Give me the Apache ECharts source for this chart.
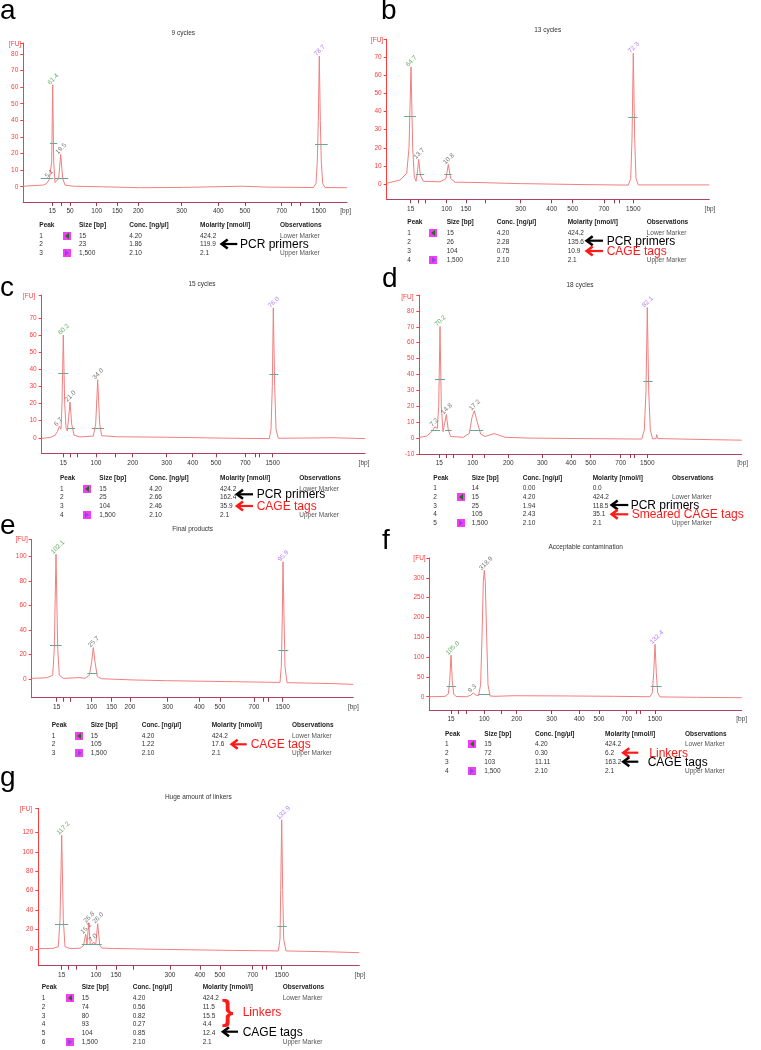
<!DOCTYPE html>
<html>
<head>
<meta charset="utf-8">
<script src="https://cdn.jsdelivr.net/npm/echarts@6/dist/echarts.min.js"></script>
<style>
  html, body { margin: 0; padding: 0; background: #fff; }
  #page { position: relative; width: 761px; height: 1050px; overflow: hidden; font-family: 'Liberation Sans', Arial, sans-serif; }
  #chart { position: absolute; left: 0; top: 0; width: 761px; height: 1050px; }
  .t { position: absolute; white-space: nowrap; line-height: 1; }
  #arrows { position: absolute; left: 0; top: 0; pointer-events: none; }
</style>
</head>
<body>
<div id="page">
  <div id="chart"></div>
  <svg id="arrows" width="761" height="1050"></svg>
</div>
<script>
// traces: [migration position, FU]
const traceA = [[0,0.3],[20,1.0],[23.4,2.0],[26,4.5],[26.7,5.1],[27.4,4],[28.4,15],[29.4,61.4],[30.4,15],[31.7,2.5],[33.4,1.5],[35.4,5],[37.4,19.5],[39.4,5],[41.7,1.0],[50,0.3],[76.7,0],[117,-0.6],[160,-0.4],[219,0.3],[243,-0.2],[290,-0.5],[292.7,2],[294,15],[295,40],[296,78.7],[297,40],[298,15],[299.4,2],[301.7,-0.5],[323.7,-0.6]];
const traceB = [[0,0.4],[13.3,2.2],[20,5.9],[22.3,20],[24.3,64.7],[26,20],[27.6,4],[29.3,1.5],[30.6,6],[32,13.7],[33.6,5],[36.6,1.5],[53.3,1.2],[59.3,3],[61.6,10.8],[64,3],[68.3,1.0],[93.3,0.8],[133.3,0.2],[135,-0.5],[136.5,0.2],[193.3,-0.3],[241.6,-0.6],[244,3],[245.3,25],[246.6,72.3],[248,25],[249.3,3],[251.6,-0.5],[322.6,-0.5]];
const traceC = [[0,-0.4],[8.3,0.2],[13.3,1.4],[15.6,3.5],[17.6,6.7],[19.3,5],[20.3,20],[21.6,60.2],[23,20],[24.3,6],[25.6,4],[27,12],[28.3,21.0],[30,8],[32.3,1.5],[38.3,0.5],[51.6,1.0],[54,8],[56,34.0],[58,8],[60,1.2],[75,0.6],[125,0.3],[191.6,-0.3],[227.6,-0.5],[229.3,5],[230.6,30],[231.6,76.0],[233,30],[234.3,5],[236.6,-0.3],[291.6,0],[323.3,-0.5]];
const traceD = [[0,0.4],[7.4,1.3],[12.4,4],[15.7,7.2],[18,6],[19.4,20],[20.7,70.2],[22,20],[23.7,4],[25,8],[27,14.8],[29,5],[31.4,1],[44,0.5],[50,3],[52.7,13],[55,17.2],[58,10],[61.4,2.5],[65.7,1.0],[70.7,2.0],[74.7,2.8],[79,2.0],[85.7,0.5],[110.7,0],[160.7,-0.3],[222.4,-0.6],[225,5],[226.7,30],[228,82.1],[229.4,30],[231,5],[233.4,-0.5],[236.7,-0.3],[237.4,2.2],[238.4,-0.3],[294,-1.0],[322.4,-1.3]];
const traceE = [[0,0.5],[15,1.0],[21,3],[22.6,25],[24.3,102.1],[26,25],[27.6,3],[31.6,0.5],[48.3,1.1],[53.3,0.5],[57.6,3],[60,14],[61.6,25.7],[63.3,14],[65.6,2],[70,0.2],[101.6,-0.8],[135,-1.4],[201.6,-2.2],[248.3,-2.8],[249.6,10],[250.6,50],[251.3,95.9],[252.3,50],[253.3,10],[255.3,-3],[302,-3.8],[321.6,-4.4]];
const traceF = [[0,0],[15.7,0.8],[19,7],[20.4,40],[21.7,105.0],[23,40],[24.4,7],[26.7,0.5],[37.4,0],[41.4,4],[44,9.3],[46.7,4],[49.3,3],[51.3,30],[52.7,150],[54,290],[55,318.9],[56,290],[57.4,150],[58.7,30],[60.7,2],[65.7,1],[84,2.5],[134,2.0],[184,1.0],[220.7,0],[223,10],[224.4,60],[225.7,132.4],[227,60],[228.4,10],[230.7,-0.5],[267.4,-1.5],[312.4,-2.5]];
const traceG = [[0,0.3],[15,0.7],[20,2.4],[21.7,30],[23.4,117.2],[25,30],[26.7,2.4],[31.7,0.5],[41.7,0.8],[45,3],[47.4,15.2],[48.7,5],[50.4,26.8],[52,4],[54,3],[55.7,7.0],[57.4,4],[59.4,26.0],[61.4,4],[63.4,1],[75,0.5],[128.4,-0.5],[195,-1.5],[240,-2],[241.7,10],[242.4,60],[243.4,132.9],[244.4,60],[245.4,10],[247.7,-2],[295,-3],[321,-3.8]];

// labelled peaks: [position, FU, kind]
const peaksA = [[26.7,5.1,'n'],[29.4,61.4,'lo'],[37.4,19.5,'n'],[296,78.7,'up']];
const peaksB = [[24.3,64.7,'lo'],[32,13.7,'n'],[61.6,10.8,'n'],[246.6,72.3,'up']];
const peaksC = [[17.6,6.7,'n'],[21.6,60.2,'lo'],[28.3,21.0,'n'],[56,34.0,'n'],[231.6,76.0,'up']];
const peaksD = [[15.7,7.2,'n'],[20.7,70.2,'lo'],[27,14.8,'n'],[55,17.2,'n'],[228,82.1,'up']];
const peaksE = [[24.3,102.1,'lo'],[61.6,25.7,'n'],[251.3,95.9,'up']];
const peaksF = [[21.7,105.0,'lo'],[44,9.3,'n'],[55,318.9,'n'],[225.7,132.4,'up']];
const peaksG = [[23.4,117.2,'lo'],[47.4,15.2,'n'],[50.4,26.8,'n'],[55.7,7.0,'n'],[59.4,26.0,'n'],[243.4,132.9,'up']];

// peak width bars: [from, to, FU]
const widthsA = [[26.7,34,26],[17.4,30,5.4],[31.7,45,5.4],[291.7,304.4,25.7]];
const widthsB = [[17.6,29.3,37.6],[29.3,37.6,5.4],[57.6,65,5.4],[241.6,251,36.8]];
const widthsC = [[16.6,26.6,37.7],[26,33.3,5.5],[50,62.3,5.5],[227.6,236.6,37.1]];
const widthsD = [[15.7,25.7,37.3],[11.4,20.7,5],[25.7,32.4,5],[50.7,64,5],[224,233.4,36]];
const widthsE = [[18.3,30,27.8],[55.6,65.6,4.6],[246.6,256.6,23.7]];
const widthsF = [[17.4,26.7,26.9],[49,60.7,5.9],[221.4,232.4,25.2]];
const widthsG = [[16.7,30,25.4],[43.4,63.4,4.8],[239,248.4,23]];

// bp ladder ticks
const tickPosA = [29,38.4,46.7,73.4,94,115,158.4,195,221.7,258.4,268.4,276.7,295.7];
const tickLblA = ['15','','50','100','150','200','300','400','500','700','','','1500'];
const tickPosB = [24,31.6,38.3,60,79.3,98.3,134,165,186,217.3,227.3,232.3,246.6];
const tickLblB = ['15','','','100','150','','300','400','500','700','','','1500'];
const tickPosC = [21.6,28.3,35.6,54.3,73.3,91,125,151,174.3,203.6,213.3,217.6,231];
const tickLblC = ['15','','','100','','200','300','400','500','700','','','1500'];
const tickPosD = [20,26.7,34,53.4,64.7,89,123,151.7,171.4,201.4,210.7,214.7,228];
const tickLblD = ['15','','','100','','200','300','400','500','700','','','1500'];
const tickPosE = [25,31.6,38.3,60,80,98.3,136,167.6,188.3,222.3,231.6,236.6,251];
const tickLblE = ['15','','','100','150','200','300','400','500','700','','','1500'];
const tickPosF = [21.7,29,36.7,55,71.7,87.4,122.4,150,169.7,197.4,206.7,211.4,225.7];
const tickLblF = ['15','','','100','','200','300','400','500','700','','','1500'];
const tickPosG = [23.4,30,37.7,57.7,77.7,95,131.7,161.7,181.7,214.4,224.4,228.4,243.4];
const tickLblG = ['15','','','100','150','','300','400','500','700','','','1500'];

// peak tables: [peak, marker, size, conc, molarity, observations]
const tableHead = ['Peak', '', 'Size [bp]', 'Conc. [ng/\u00b5l]', 'Molarity [nmol/l]', 'Observations'];
const tableA = [['1','lo','15','4.20','424.2','Lower Marker'],['2','','23','1.86','119.9',''],['3','up','1,500','2.10','2.1','Upper Marker']];
const tableB = [['1','lo','15','4.20','424.2','Lower Marker'],['2','','26','2.28','135.6',''],['3','','104','0.75','10.9',''],['4','up','1,500','2.10','2.1','Upper Marker']];
const tableC = [['1','lo','15','4.20','424.2','Lower Marker'],['2','','25','2.66','162.4',''],['3','','104','2.46','35.9',''],['4','up','1,500','2.10','2.1','Upper Marker']];
const tableD = [['1','','14','0.00','0.0',''],['2','lo','15','4.20','424.2','Lower Marker'],['3','','25','1.94','118.5',''],['4','','105','2.43','35.1',''],['5','up','1,500','2.10','2.1','Upper Marker']];
const tableE = [['1','lo','15','4.20','424.2','Lower Marker'],['2','','105','1.22','17.6',''],['3','up','1,500','2.10','2.1','Upper Marker']];
const tableF = [['1','lo','15','4.20','424.2','Lower Marker'],['2','','72','0.30','6.2',''],['3','','103','11.11','163.2',''],['4','up','1,500','2.10','2.1','Upper Marker']];
const tableG = [['1','lo','15','4.20','424.2','Lower Marker'],['2','','74','0.56','11.5',''],['3','','80','0.82','15.5',''],['4','','93','0.27','4.4',''],['5','','104','0.85','12.4',''],['6','up','1,500','2.10','2.1','Upper Marker']];

const BLACK = '#000';
const RED = '#ff1a1a';

const panels = [
  { trace: traceA, peaks: peaksA, widths: widthsA, tickPos: tickPosA, tickLbl: tickLblA, table: tableA,
    letter: 'a', letterAt: [0, 20], title: '9 cycles', titleAt: [183.3, 32.7], fuAt: [15, 44.3], bpAt: [345.7, 211],
    grid: { left: 23.3, top: 43, width: 323.7, height: 159 }, y: [-9.2, 86.6, 10, 0, 80],
    cols: [39.3, 62.7, 79, 129.3, 200, 280], headY: 225, rowY: [236, 244.3, 253.3],
    notes: [['PCR primers', BLACK, 240, 244, 221.7, 237.3]] },
  { trace: traceB, peaks: peaksB, widths: widthsB, tickPos: tickPosB, tickLbl: tickLblB, table: tableB,
    letter: 'b', letterAt: [381, 20], title: '13 cycles', titleAt: [547.7, 30], fuAt: [377, 40], bpAt: [710, 209],
    grid: { left: 386.7, top: 39.2, width: 322.6, height: 160.1 }, y: [-8.45, 80, 10, 0, 70],
    cols: [407.3, 429.3, 446.7, 496.7, 567.7, 646.7], headY: 222.3, rowY: [233.3, 241.7, 251, 260],
    notes: [['PCR primers', BLACK, 606.7, 240.7, 586.7, 603], ['CAGE tags', RED, 606.7, 251, 586.7, 603]] },
  { trace: traceC, peaks: peaksC, widths: widthsC, tickPos: tickPosC, tickLbl: tickLblC, table: tableC,
    letter: 'c', letterAt: [0, 297], title: '15 cycles', titleAt: [202, 284], fuAt: [29, 296], bpAt: [364, 462.7],
    grid: { left: 41.7, top: 295, width: 323.3, height: 158.3 }, y: [-9.1, 83.6, 10, 0, 70],
    cols: [60, 82.7, 99.3, 149.3, 220, 299.3], headY: 478.3, rowY: [489.3, 497.3, 506, 515],
    notes: [['PCR primers', BLACK, 256.7, 494.3, 237, 253], ['CAGE tags', RED, 256.7, 506, 237, 253]] },
  { trace: traceD, peaks: peaksD, widths: widthsD, tickPos: tickPosD, tickLbl: tickLblD, table: tableD,
    letter: 'd', letterAt: [382, 288], title: '18 cycles', titleAt: [580, 285], fuAt: [407.3, 296.7], bpAt: [742.7, 463.3],
    grid: { left: 419.3, top: 295, width: 322.4, height: 159 }, y: [-10, 90, 10, -10, 80],
    cols: [433.3, 456.7, 471.7, 522.7, 592.7, 672], headY: 478.3, rowY: [488.3, 497.3, 505.5, 514.3, 523.3],
    notes: [['PCR primers', BLACK, 630.7, 505, 611.7, 628.3], ['Smeared CAGE tags', RED, 631.7, 514.3, 611.7, 628.3]] },
  { trace: traceE, peaks: peaksE, widths: widthsE, tickPos: tickPosE, tickLbl: tickLblE, table: tableE,
    letter: 'e', letterAt: [0, 535], title: 'Final products', titleAt: [192.7, 529], fuAt: [21.7, 539.3], bpAt: [353.3, 707.3],
    grid: { left: 31.7, top: 539.3, width: 321.6, height: 158.4 }, y: [-15.3, 114.2, 20, 0, 100],
    cols: [51.7, 75, 90.7, 141.7, 211.7, 292], headY: 725, rowY: [735.7, 744.3, 753.3],
    notes: [['CAGE tags', RED, 250.7, 744.3, 231.7, 246.7]] },
  { trace: traceF, peaks: peaksF, widths: widthsF, tickPos: tickPosF, tickLbl: tickLblF, table: tableF,
    letter: 'f', letterAt: [382, 550], title: 'Acceptable contamination', titleAt: [585.7, 546.7], fuAt: [419.5, 558.3], bpAt: [741.7, 719.3],
    grid: { left: 429.3, top: 558, width: 312.4, height: 152 }, y: [-33.5, 350, 50, 0, 300],
    cols: [445, 467.7, 484.3, 535, 605, 685], headY: 734, rowY: [744.3, 753.3, 762, 771],
    notes: [['Linkers', RED, 649.3, 752.7, 623.3, 638.3], ['CAGE tags', BLACK, 647.7, 761.7, 623.3, 638.3]] },
  { trace: traceG, peaks: peaksG, widths: widthsG, tickPos: tickPosG, tickLbl: tickLblG, table: tableG,
    letter: 'g', letterAt: [0, 787], title: 'Huge amount of linkers', titleAt: [198.3, 796.7], fuAt: [26, 809.3], bpAt: [360, 975],
    grid: { left: 38.3, top: 808.3, width: 321, height: 157.4 }, y: [-17.2, 144.7, 20, 0, 120],
    cols: [41.7, 65.7, 81.7, 132.7, 202.7, 282.7], headY: 987.3, rowY: [998.3, 1007, 1016, 1024.3, 1032.7, 1041.7],
    notes: [['Linkers', RED, 242.7, 1011.7, null, null], ['CAGE tags', BLACK, 242.7, 1031.7, 223, 238]],
    brace: [227.5, 1011] }
];

const peakColor = { lo: '#3c9a3c', up: '#a05ff0', n: '#555' };
const page = document.getElementById('page');
const svg = document.getElementById('arrows');

function put(txt, x, y, css, center) {
  const s = document.createElement('span');
  s.className = 't';
  s.textContent = txt;
  s.style.left = x + 'px';
  s.style.top = y + 'px';
  s.style.transform = center ? 'translate(-50%,-50%)' : 'translate(0,-50%)';
  Object.assign(s.style, css || {});
  page.appendChild(s);
}

function arrow(x1, x2, y, color) {
  const head = document.createElementNS('http://www.w3.org/2000/svg', 'path');
  head.setAttribute('d', `M${x1 + 6} ${y - 4.5} L${x1} ${y} L${x1 + 6} ${y + 4.5}`);
  head.setAttribute('stroke', color);
  head.setAttribute('stroke-width', '2.6');
  head.setAttribute('fill', 'none');
  svg.appendChild(head);
  const shaft = document.createElementNS('http://www.w3.org/2000/svg', 'path');
  shaft.setAttribute('d', `M${x1 + 1} ${y} L${x2} ${y}`);
  shaft.setAttribute('stroke', color);
  shaft.setAttribute('stroke-width', '2.2');
  svg.appendChild(shaft);
}

function markerBox(x, y, kind) {
  const b = document.createElement('div');
  Object.assign(b.style, { position: 'absolute', left: x + 'px', top: (y - 4) + 'px', width: '8px', height: '8px',
    background: '#f43cf4', boxSizing: 'border-box' });
  const t = document.createElement('div');
  if (kind === 'lo') {
    Object.assign(t.style, { position: 'absolute', left: '2px', top: '1px', width: 0, height: 0,
      borderTop: '3px solid transparent', borderBottom: '3px solid transparent', borderRight: '4px solid #1f6f1f' });
  } else {
    Object.assign(t.style, { position: 'absolute', left: '2.5px', top: '1px', width: 0, height: 0,
      borderTop: '3px solid transparent', borderBottom: '3px solid transparent', borderLeft: '4px solid #8a4ae0' });
  }
  b.appendChild(t);
  page.appendChild(b);
}

const grids = [], xAxes = [], yAxes = [], series = [];

panels.forEach((p, i) => {
  const [yMin, yMax, step, l0, l1] = p.y;
  const yLabels = [];
  for (let v = l0; v <= l1 + 1e-9; v += step) yLabels.push(v);
  const yTicks = yLabels.concat([yMax]);

  grids.push(Object.assign({ containLabel: false }, p.grid));
  xAxes.push({
    type: 'value', gridIndex: i, min: 0, max: p.grid.width,
    axisLine: { show: true, onZero: false, lineStyle: { color: '#b3405e', width: 1 } },
    axisTick: { show: true, length: 4, customValues: p.tickPos, lineStyle: { color: '#9a3a5a' } },
    axisLabel: {
      show: true, margin: 6, fontSize: 6.5, color: '#333', fontFamily: 'Liberation Sans',
      customValues: p.tickPos.filter((t, k) => p.tickLbl[k] !== ''),
      formatter: v => {
        const k = p.tickPos.findIndex(t => Math.abs(t - v) < 0.01);
        return k >= 0 ? p.tickLbl[k] : '';
      }
    },
    splitLine: { show: false }
  });
  yAxes.push({
    type: 'value', gridIndex: i, min: yMin, max: yMax,
    axisLine: { show: true, onZero: false, lineStyle: { color: '#ff3b3b', width: 1 } },
    axisTick: { show: true, length: 3, customValues: yTicks, lineStyle: { color: '#ff3b3b' } },
    axisLabel: { show: true, margin: 5, fontSize: 6.5, color: '#ff3b3b', fontFamily: 'Liberation Sans', customValues: yLabels },
    splitLine: { show: false }
  });

  series.push({
    type: 'line', xAxisIndex: i, yAxisIndex: i, data: p.trace, showSymbol: false, symbol: 'none',
    lineStyle: { color: '#f27f7f', width: 1 }, z: 2,
    markLine: {
      silent: true, symbol: 'none', label: { show: false },
      lineStyle: { color: '#6aa596', width: 1, type: 'solid' },
      data: p.widths.map(w => [{ coord: [w[0], w[2]] }, { coord: [w[1], w[2]] }])
    }
  });
  series.push({
    type: 'scatter', xAxisIndex: i, yAxisIndex: i, symbolSize: 1, z: 3,
    itemStyle: { color: 'rgba(0,0,0,0)' },
    data: p.peaks.map(pk => ({
      value: [pk[0], pk[1]],
      label: { color: peakColor[pk[2]] }
    })),
    label: {
      show: true, position: [0, 0], align: 'left', verticalAlign: 'middle', rotate: 45,
      offset: [-2, -3], fontSize: 6.5, fontFamily: 'Liberation Sans',
      formatter: prm => prm.value[1].toFixed(1)
    }
  });

  // texts around the plot
  put(p.letter, p.letterAt[0], p.letterAt[1] - 23.7, { fontSize: '28px', color: '#000', transform: 'none' }, false);
  put(p.title, p.titleAt[0], p.titleAt[1], { fontSize: '6.5px', color: '#333' }, true);
  put('[FU]', p.fuAt[0], p.fuAt[1], { fontSize: '6.5px', color: '#ff3b3b' }, true);
  put('[bp]', p.bpAt[0], p.bpAt[1], { fontSize: '6.5px', color: '#444' }, true);

  // peak table
  tableHead.forEach((h, c) => {
    if (h) put(h, p.cols[c], p.headY, { fontSize: '6.5px', fontWeight: 'bold', color: '#222' }, false);
  });
  p.table.forEach((row, r) => {
    const y = p.rowY[r];
    row.forEach((cell, c) => {
      if (c === 1) { if (cell) markerBox(p.cols[c], y, cell); return; }
      if (cell) put(cell, p.cols[c], y, { fontSize: '6.5px', color: c === 5 ? '#555' : '#333' }, false);
    });
  });

  // callouts
  p.notes.forEach(n => {
    put(n[0], n[2], n[3], { fontSize: '12px', color: n[1] }, false);
    if (n[4] !== null) arrow(n[4], n[5], n[3], n[1]);
  });
  if (p.brace) put('}', p.brace[0], p.brace[1], { fontSize: '30px', color: RED, fontWeight: 'bold' }, true);
});

const chart = echarts.init(document.getElementById('chart'), null, { renderer: 'canvas' });
chart.setOption({
  animation: false,
  backgroundColor: '#fff',
  grid: grids,
  xAxis: xAxes,
  yAxis: yAxes,
  series: series
});
</script>
</body>
</html>
